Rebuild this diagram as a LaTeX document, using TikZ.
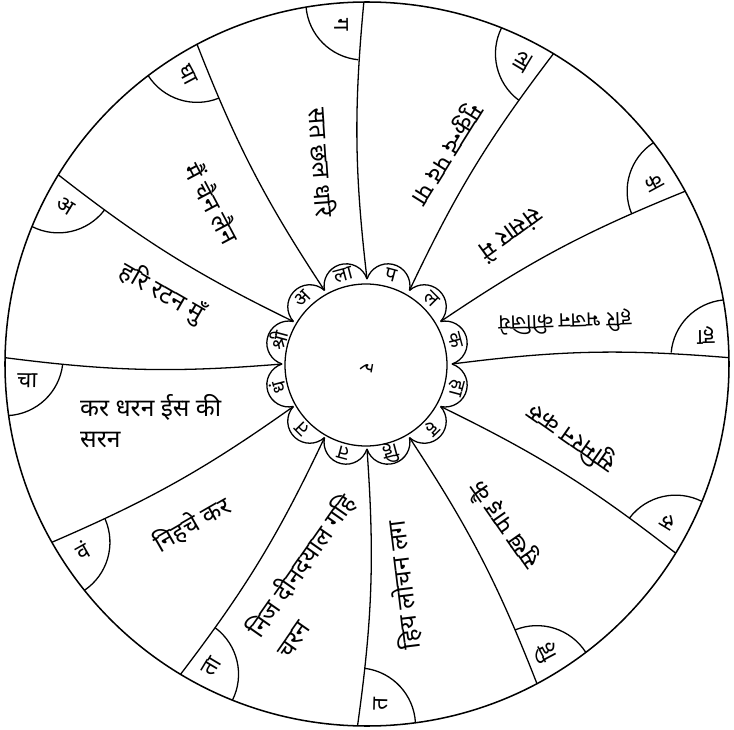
\documentclass[tikz,border=0pt]{standalone}
\usepackage{fontspec}
\newfontfamily\deva[Script=Devanagari]{Noto Sans}
\usepackage{tikz}
\usetikzlibrary{positioning, calc}
\tikzset{
  rim/.style          = {draw, line width=1.3pt},
  spoke/.style        = {draw, line width=1.1pt},
  petal/.style        = {draw, line width=1.1pt},
  verse/.style        = {font=\deva\fontsize{21}{26}\selectfont, inner sep=0pt, align=left},
  cornerletter/.style = {font=\deva\fontsize{19}{21}\selectfont, inner sep=0pt},
  petalletter/.style  = {font=\deva\fontsize{17}{19}\selectfont, inner sep=0pt}
}

\begin{document}
\begin{tikzpicture}[x=0.03cm, y=0.03cm]
  \useasboundingbox (-367,-365) rectangle (367,364);

  % --- rim and hub ---------------------------------------------------------
  \draw[rim]   (0,0) circle (362);
  \draw[petal] (-1,-1) circle (81);

  % --- spoke ends: j on the hub, o on the rim ------------------------------
  \foreach \n/\a/\b in {1/180/179, 2/150/148.5, 3/120/118, 4/90/90.5,
                        5/60/59, 6/30/28.5, 7/0/1, 8/-30/-31.5,
                        9/-60/-62, 10/-90/-91.5, 11/-120/-121, 12/-150/-150.5}{
    \coordinate (j\n) at (\a:85);
    \coordinate (o\n) at (\b:362);
  }

  % --- petals round the hub ------------------------------------------------
  \foreach \k in {0,...,11}
    \draw[petal] ({\k*30}:85) arc[start angle={\k*30+15-87}, end angle={\k*30+15+87}, radius=22];

  % --- spokes, and the small arc where each meets the rim ------------------
  \foreach \n/\b in {1/179, 2/148.5, 3/118, 4/90.5, 5/59, 6/28.5, 7/1,
                     8/-31.5, 9/-62, 10/-91.5, 11/-121, 12/-150.5}{
    \draw[spoke] (j\n) to[bend left=6] (o\n);
    \draw[spoke] (o\n) ++({\b+94.5}:58) arc[start angle={\b+94.5}, end angle={\b+174}, radius=58];
  }

  % --- letters in the rim arcs ---------------------------------------------
  \foreach \n/\b/\t in {1/179/चा, 2/148.5/अ, 3/118/घा, 4/90.5/ग, 5/59/ला,
                        6/28.5/क, 7/1/हा, 8/-31.5/रु, 9/-62/हि, 10/-91.5/त,
                        11/-121/ता, 12/-150.5/वं}
    \path (o\n) ++({\b+135}:32) node[cornerletter, rotate={\b-180}] (c\n) {\t};

  % --- letters in the petals -----------------------------------------------
  \foreach \k/\t in {0/क, 1/ल, 2/प, 3/ला, 4/अ, 5/श्री,
                     6/धं, 7/त, 8/त, 9/हि, 10/ह, 11/हा}
    \node[petalletter, rotate={\k*30+15-90}] (p\k) at ({\k*30+15}:92) {\t};

  \node[petalletter, rotate=-100] (hub) at (0,-4) {र};

  % --- verses, one in each sector ------------------------------------------
  \node[verse, anchor=west]  (v12) at (-287,-57)  {कर धरन ईस की\\सरन};
  \node[verse, rotate=-30]   (v1)  at (-205,71)   {हरि रटन मुँ};
  \node[verse, rotate=-62]   (v2)  at (-154,161)  {मैं चैन लैन};
  \node[verse, rotate=-86]   (v3)  at (-44,202)   {सत छल धरि};
  \node[verse, rotate=-122]  (v4)  at (78,211)    {मुकुन्द पद पा};
  \node[verse, rotate=-144]  (v5)  at (145,129)   {संसार में};
  \node[verse, rotate=182, font=\deva\fontsize{18}{22}\selectfont]
                             (v6)  at (198,42)    {हरि भजन कीजिये};
  \node[verse, rotate=145]   (v7)  at (205,-74)   {सुमिरन करु};
  \node[verse, rotate=125]   (v8)  at (138,-161)  {सुख पाइ कै};
  \node[verse, rotate=97]    (v9)  at (36,-221)   {हिय लोचन लग};
  \node[verse, rotate=55]    (v10) at (-53,-211)  {निज दीनदयाल गहि\\[4pt]चरन};
  \node[verse, rotate=30]    (v11) at (-175,-160) {निहचे कर};

\end{tikzpicture}
\end{document}
